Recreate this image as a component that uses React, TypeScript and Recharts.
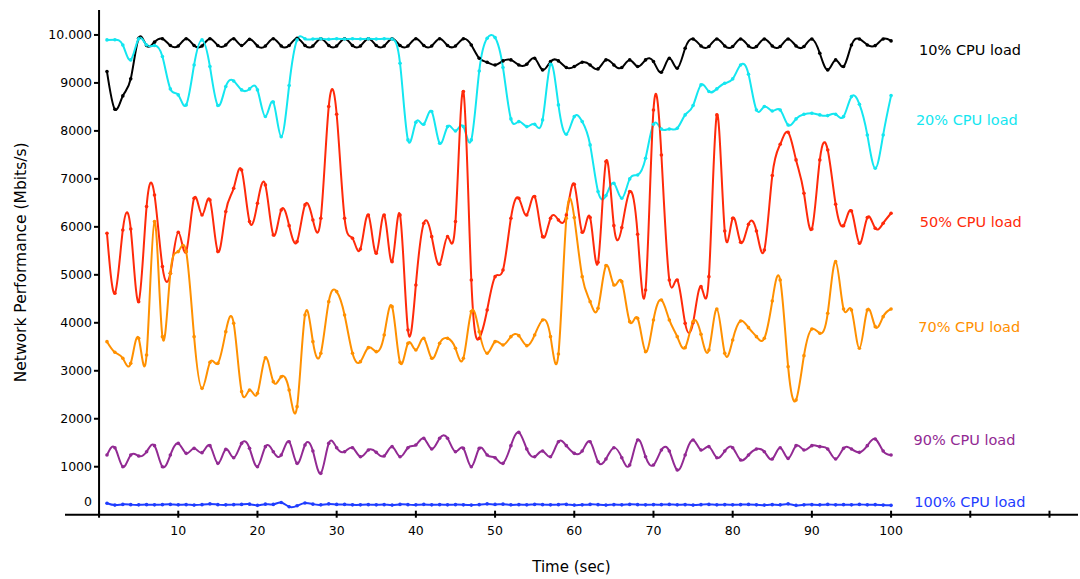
import { LineChart, Line, XAxis, YAxis, ReferenceLine, ReferenceDot } from 'recharts'

// seconds 1..100, one sample per second
const cpu10 = [
  9237, 8450, 8730, 9085, 9930, 9780, 9850, 9920, 9780, 9770, 9920, 9780, 9770, 9920, 9780, 9790, 9920, 9780, 9910, 9770, 9770, 9920, 9770, 9780, 9930,
  9780, 9770, 9920, 9780, 9770, 9920, 9780, 9770, 9920, 9780, 9770, 9920, 9780, 9770, 9920, 9780, 9770, 9920, 9780, 9770, 9920, 9790, 9514, 9431, 9375,
  9459, 9480, 9375, 9389, 9514, 9271, 9445, 9459, 9320, 9341, 9431, 9375, 9292, 9480, 9375, 9320, 9480, 9341, 9480, 9445, 9223, 9514, 9306, 9723, 9917,
  9770, 9760, 9917, 9770, 9760, 9917, 9770, 9760, 9917, 9770, 9760, 9917, 9770, 9760, 9917, 9619, 9271, 9480, 9341, 9792, 9917, 9792, 9778, 9917, 9876,
]
const cpu20 = [
  9897, 9900, 9790, 9480, 9918, 9790, 9780, 9550, 8875, 8750, 8540, 9375, 9897, 9340, 8530, 8925, 9040, 8855, 8875, 8855, 8300, 8600, 7880, 8945, 9897,
  9920, 9915, 9920, 9910, 9920, 9915, 9920, 9915, 9920, 9915, 9920, 9915, 9410, 7812, 8180, 8138, 8403, 7742, 8090, 7999, 8090, 7812, 9250, 9932, 9945,
  9320, 8250, 8194, 8090, 8138, 8229, 9389, 8542, 7930, 8298, 8194, 7708, 6735, 6651, 6908, 6596, 6999, 7082, 7430, 8138, 8041, 8041, 8055, 8333, 8528,
  8959, 8820, 8875, 8993, 9084, 9375, 9181, 8437, 8507, 8416, 8437, 8124, 8250, 8347, 8368, 8333, 8319, 8347, 8298, 8715, 8556, 7916, 7221, 7916, 8736,
]
const cpu50 = [
  5866, 4615, 5935, 5956, 4441, 6422, 6665, 5171, 5032, 5887, 5484, 6596, 6248, 6560, 5484, 6318, 6804, 7186, 6109, 6491, 6874, 5831, 6352, 6025, 5692,
  6457, 6144, 6179, 8507, 8347, 6179, 5762, 5539, 6248, 5449, 6248, 5275, 6248, 3850, 4789, 6074, 5796, 5219, 5796, 6109, 8820, 4893, 3677, 4267, 4962,
  5101, 6179, 6596, 6248, 6630, 5796, 6179, 6144, 6248, 6887, 5887, 6193, 5261, 7360, 6025, 5984, 6735, 5845, 4684, 8437, 7499, 4893, 4893, 3989, 4000,
  4754, 4962, 8333, 5914, 6179, 5678, 6053, 5914, 5518, 7068, 7721, 7972, 7395, 6700, 5956, 7395, 7603, 6470, 6025, 6331, 5657, 6193, 5970, 6074, 6283,
]
const cpu70 = [
  3607, 3385, 3260, 3155, 3677, 3329, 6109, 3711, 5032, 5484, 5484, 3711, 2634, 3176, 3155, 3816, 3989, 2565, 2599, 2530, 3273, 2773, 2877, 2599, 2252,
  4163, 3607, 3364, 4441, 4650, 4163, 3364, 3190, 3482, 3399, 3746, 4337, 3176, 3572, 3433, 3677, 3260, 3572, 3677, 3468, 3260, 4233, 3816, 3364, 3607,
  3538, 3711, 3732, 3524, 3746, 4059, 3711, 3350, 6179, 6193, 4962, 4441, 4302, 5192, 4789, 4858, 4024, 4094, 3399, 4059, 4476, 4059, 3711, 3482, 4024,
  3760, 3433, 4288, 3364, 3642, 4038, 3899, 3711, 3677, 4455, 4893, 3086, 2391, 3315, 3871, 3781, 4198, 5275, 4288, 4267, 3468, 4267, 3920, 4128, 4288,
]
const cpu90 = [
  1244, 1397, 1001, 1244, 1223, 1313, 1439, 1001, 1244, 1487, 1279, 1383, 1293, 1439, 1070, 1362, 1188, 1487, 1383, 1001, 1418, 1313, 1244, 1522, 1070,
  1453, 1327, 862, 1487, 1397, 1313, 1397, 1209, 1348, 1300, 1223, 1418, 1209, 1397, 1453, 1592, 1369, 1592, 1592, 1313, 1383, 1001, 1383, 1244, 1188,
  1070, 1439, 1717, 1369, 1209, 1327, 1209, 1522, 1439, 1279, 1327, 1522, 1105, 1161, 1397, 1188, 1036, 1557, 1209, 1036, 1348, 1327, 931, 1244, 1557,
  1348, 1418, 1188, 1327, 1397, 1140, 1244, 1369, 1313, 1161, 1397, 1174, 1439, 1348, 1439, 1418, 1369, 1161, 1383, 1369, 1300, 1439, 1578, 1327, 1244,
]
const cpu100 = [
  240, 200, 215, 210, 205, 210, 205, 210, 215, 205, 210, 200, 210, 225, 210, 205, 210, 215, 220, 195, 220, 215, 255, 165, 185,
  245, 220, 205, 225, 215, 215, 205, 205, 210, 205, 210, 200, 215, 210, 205, 215, 205, 210, 205, 210, 205, 200, 210, 225, 215,
  220, 205, 210, 205, 215, 210, 205, 210, 215, 200, 205, 215, 210, 200, 210, 205, 215, 210, 205, 210, 210, 215, 205, 210, 200,
  210, 215, 205, 210, 205, 210, 215, 205, 200, 210, 205, 225, 195, 205, 210, 205, 215, 205, 210, 205, 215, 205, 210, 200, 195,
]

const seriesKeys = ['c10', 'c20', 'c50', 'c70', 'c90', 'c100']
const seriesNames = ['10% CPU load', '20% CPU load', '50% CPU load', '70% CPU load', '90% CPU load', '100% CPU load']
const seriesColors = ['#000000', '#14e6f0', '#ff2a0a', '#ff9000', '#922a93', '#1f3dff']
const labelX = [102.9, 102.5, 103.0, 102.8, 102.2, 102.3]
const labelY = [9690, 8230, 6100, 3914, 1557, 265]

const xTicks = [0, 10, 20, 30, 40, 50, 60, 70, 80, 90, 100, 110, 120]
const yTicks = [0, 1000, 2000, 3000, 4000, 5000, 6000, 7000, 8000, 9000, 10000]

const data = cpu10.map((v, i) => ({
  t: i + 1,
  c10: v,
  c20: cpu20[i],
  c50: cpu50[i],
  c70: cpu70[i],
  c90: cpu90[i],
  c100: cpu100[i],
}))

const FONT = '"DejaVu Sans", sans-serif'
const Y_AXIS_SHIFT = 34 // y axis sits at t = 0, inside the plot

function XTick({ x, y, payload }: any) {
  const v = payload.value
  const show = v > 0 && v <= 100
  return (
    <g>
      <line x1={x} x2={x} y1={y - 4} y2={y + 3} stroke="#000" strokeWidth={2} />
      {show && (
        <text x={x} y={y + 20} textAnchor="middle" fontSize={12.5} fontFamily={FONT} fill="#000">
          {v}
        </text>
      )}
    </g>
  )
}

function YTick({ x, y, payload }: any) {
  const v = payload.value
  const ax = x + Y_AXIS_SHIFT
  const label = v === 10000 ? '10.000' : String(v)
  return (
    <g>
      {v !== 0 && <line x1={ax - 5} x2={ax} y1={y} y2={y} stroke="#000" strokeWidth={2} />}
      <text x={ax - 7} y={v === 0 ? y - 8.5 : y + 4.5} textAnchor="end" fontSize={12.5} fontFamily={FONT} fill="#000">
        {label}
      </text>
    </g>
  )
}

export default function App() {
  return (
    <div style={{ position: 'absolute', left: 0, top: 0, background: '#fff' }}>
      <LineChart
        width={1080}
        height={579}
        data={data}
        margin={{ top: 10, right: 2, bottom: 4.3, left: 0 }}
        style={{ fontFamily: FONT }}
      >
        <XAxis
          dataKey="t"
          type="number"
          domain={[-4.3, 123.6]}
          allowDataOverflow
          ticks={xTicks}
          interval={0}
          height={60}
          tickSize={0}
          tickMargin={0}
          tickLine={false}
          axisLine={{ stroke: '#000', strokeWidth: 2 }}
          tick={<XTick />}
          label={{ value: 'Time (sec)', position: 'insideBottom', offset: 3, fontSize: 15, fill: '#000', fontFamily: FONT }}
        />
        <YAxis
          type="number"
          domain={[0, 10520]}
          allowDataOverflow
          ticks={yTicks}
          interval={0}
          width={65}
          tickSize={0}
          tickMargin={0}
          tickLine={false}
          axisLine={false}
          tick={<YTick />}
          label={{
            value: 'Network Performance (Mbits/s)',
            angle: -90,
            position: 'center',
            dx: -12,
            fontSize: 15.5,
            fill: '#000',
            fontFamily: FONT,
          }}
        />
        <ReferenceLine x={0} stroke="#000" strokeWidth={2} />
        {seriesKeys.map((k, i) => (
          <Line
            key={k}
            type="natural"
            dataKey={k}
            name={seriesNames[i]}
            stroke={seriesColors[i]}
            strokeWidth={2}
            dot={{ r: 1.8, fill: seriesColors[i], stroke: seriesColors[i], strokeWidth: 0 }}
            isAnimationActive={false}
          />
        ))}
        {seriesKeys.map((k, i) => (
          <ReferenceDot
            key={'lbl-' + k}
            x={labelX[i]}
            y={labelY[i]}
            r={0}
            ifOverflow="visible"
            stroke="none"
            label={{ value: seriesNames[i], position: 'right', fill: seriesColors[i], fontSize: 14.5, fontFamily: FONT }}
          />
        ))}
      </LineChart>
    </div>
  )
}
